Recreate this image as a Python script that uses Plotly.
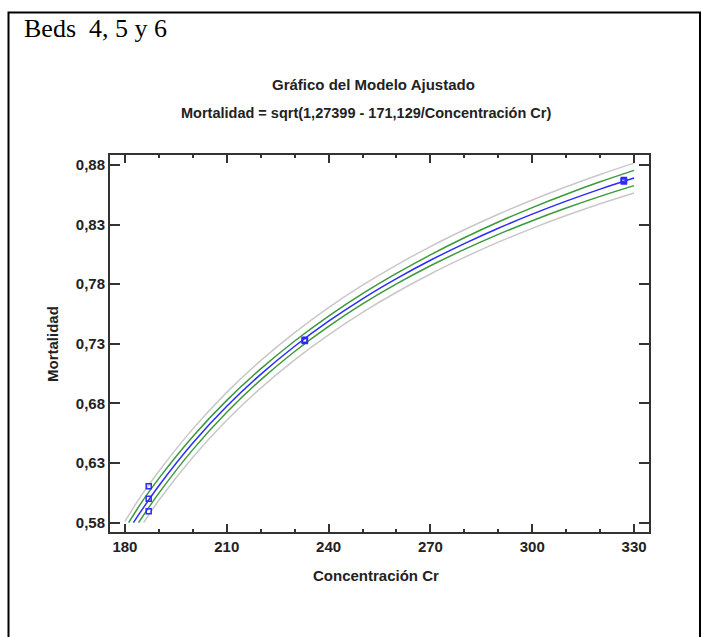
import plotly.graph_objects as go

# ---------------- data ----------------
obs_x = [187, 187, 187, 233, 233, 233, 327, 327, 327]
obs_y = [0.6105, 0.6001, 0.5895, 0.7325, 0.7330, 0.7335, 0.8662, 0.8668, 0.8674]

grid_x = [190, 200, 210, 220, 230, 240, 250, 260, 270, 280, 290, 300, 310, 320, 330]

fit_x = [182.5, 185] + grid_x
fit_y = [0.5800, 0.5907, 0.6110, 0.6468, 0.6776, 0.7044, 0.7280, 0.7490, 0.7678,
         0.7847, 0.8001, 0.8141, 0.8270, 0.8388, 0.8497, 0.8598, 0.8691]

conf_hi_x = [181.1, 185] + grid_x
conf_hi_y = [0.5800, 0.5975, 0.6172, 0.6523, 0.6826, 0.7090, 0.7324, 0.7533, 0.7721,
             0.7891, 0.8047, 0.8190, 0.8322, 0.8443, 0.8555, 0.8659, 0.8755]

conf_lo_x = [184.0] + grid_x
conf_lo_y = [0.5800, 0.6048, 0.6413, 0.6726, 0.6998, 0.7236, 0.7447, 0.7635,
             0.7803, 0.7955, 0.8092, 0.8218, 0.8333, 0.8439, 0.8537, 0.8627]

pred_hi_x = [180.0, 185] + grid_x
pred_hi_y = [0.5811, 0.6035, 0.6232, 0.6587, 0.6893, 0.7159, 0.7394, 0.7604, 0.7792,
             0.7961, 0.8116, 0.8257, 0.8387, 0.8507, 0.8618, 0.8721, 0.8816]

pred_lo_x = [185.5] + grid_x
pred_lo_y = [0.5800, 0.5988, 0.6349, 0.6659, 0.6929, 0.7166, 0.7376, 0.7564,
             0.7733, 0.7886, 0.8025, 0.8153, 0.8269, 0.8376, 0.8475, 0.8566]

x_ticks = [180, 210, 240, 270, 300, 330]
x_ticktext = ["180", "210", "240", "270", "300", "330"]
x_minor_ticks = [190, 200, 220, 230, 250, 260, 280, 290, 310, 320]
y_ticks = [0.58, 0.63, 0.68, 0.73, 0.78, 0.83, 0.88]
y_ticktext = ["0,58", "0,63", "0,68", "0,73", "0,78", "0,83", "0,88"]

header_text = "Beds  4, 5 y 6"
title_1 = "Gráfico del Modelo Ajustado"
title_2 = "Mortalidad = sqrt(1,27399 - 171,129/Concentración Cr)"
x_title = "Concentración Cr"
y_title = "Mortalidad"

# ---------------- layout geometry ----------------
W, H = 702, 637
L, R, T, B = 110, 649, 155, 532  # plot area in pixels


def px(xp):
    return (xp - L) / (R - L)


def py(yp):
    return (B - yp) / (B - T)


FONT = "Liberation Sans, Arial, sans-serif"
TXT = "#222222"
AX = "#333333"

fig = go.Figure()

gray = "#c8c8c8"
green = "#3a9a3a"
blue = "#2b2bff"

for xs, ys, col in [(pred_hi_x, pred_hi_y, gray), (pred_lo_x, pred_lo_y, gray),
                    (conf_hi_x, conf_hi_y, green), (conf_lo_x, conf_lo_y, green),
                    (fit_x, fit_y, blue)]:
    fig.add_trace(go.Scatter(x=xs, y=ys, mode="lines",
                             line=dict(color=col, width=1.5, shape="spline"),
                             hoverinfo="skip"))

fig.add_trace(go.Scatter(x=obs_x, y=obs_y, mode="markers",
                         marker=dict(symbol="square-open", size=5, color=blue,
                                     line=dict(width=1.5, color=blue))))

tickfont = dict(family=FONT, size=15, color=TXT, weight="bold")
axis_common = dict(showgrid=False, zeroline=False, showline=True,
                   linecolor=AX, linewidth=2, mirror="ticks",
                   ticks="inside", tickcolor=AX, tickwidth=1.5,
                   tickfont=tickfont)

fig.update_xaxes(range=[175.6, 334.4], tickvals=x_ticks, ticktext=x_ticktext,
                 ticklen=8,
                 minor=dict(ticks="inside", ticklen=3, tickvals=x_minor_ticks,
                            tickcolor=AX, tickwidth=1.5),
                 **axis_common)
fig.update_yaxes(range=[0.5722, 0.8884], tickvals=y_ticks, ticktext=y_ticktext,
                 ticklen=10, **axis_common)

# top axis carrying the mirrored minor ticks
fig.update_layout(xaxis2=dict(overlaying="x", side="top", matches="x",
                              range=[175.6, 334.4], showgrid=False, zeroline=False,
                              showline=False, tickvals=x_minor_ticks,
                              ticks="inside", ticklen=3, tickwidth=1.5,
                              tickcolor=AX, showticklabels=False))
fig.add_trace(go.Scatter(x=[obs_x[0]], y=[obs_y[0]], xaxis="x2", mode="markers",
                         marker=dict(opacity=0), hoverinfo="skip"))

annotations = [
    dict(text=header_text, x=px(22), y=py(28), xanchor="left", yanchor="middle",
         font=dict(family="Liberation Serif, Times New Roman, serif", size=26, color="#000000")),
    dict(text=title_1, x=px(373), y=py(85), xanchor="center", yanchor="middle",
         font=dict(family=FONT, size=15, color=TXT, weight="bold")),
    dict(text=title_2, x=px(366), y=py(113), xanchor="center", yanchor="middle",
         font=dict(family=FONT, size=14.5, color=TXT, weight="bold")),
    dict(text=x_title, x=px(376), y=py(575), xanchor="center", yanchor="middle",
         font=dict(family=FONT, size=15, color=TXT, weight="bold")),
    dict(text=y_title, x=px(52), y=py(344), xanchor="center", yanchor="middle",
         textangle=-90, font=dict(family=FONT, size=15, color=TXT, weight="bold")),
]
for a in annotations:
    a.update(xref="paper", yref="paper", showarrow=False)

fig.update_layout(
    width=W, height=H,
    margin=dict(l=L, r=W - R, t=T, b=H - B, pad=0),
    plot_bgcolor="white", paper_bgcolor="white",
    showlegend=False,
    annotations=annotations,
    shapes=[dict(type="rect", xref="paper", yref="paper",
                 x0=px(8.5), x1=px(700), y0=py(650), y1=py(12.5),
                 line=dict(color="black", width=2), layer="below")],
)

fig.write_html("out.html", config={"displayModeBar": False},
               post_script="document.body.style.margin='0';document.body.style.overflow='hidden';")
